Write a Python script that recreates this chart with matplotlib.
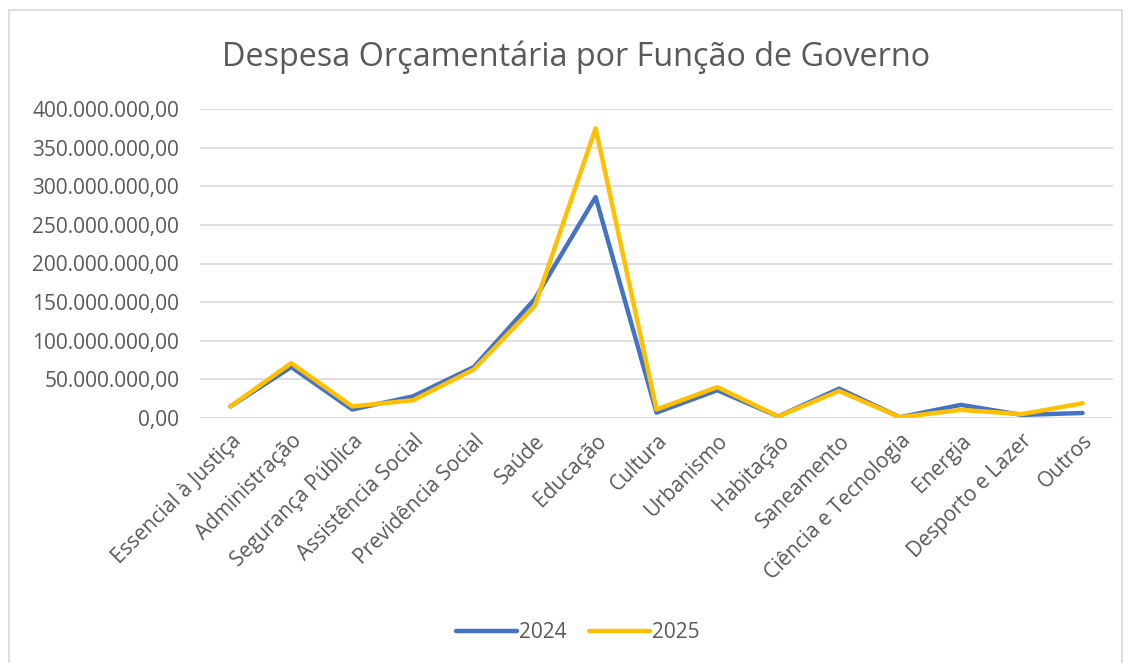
import matplotlib
matplotlib.use("Agg")
import matplotlib.pyplot as plt
from matplotlib.ticker import FuncFormatter, MultipleLocator
from matplotlib.patches import Rectangle

categories = ["Essencial à Justiça", "Administração", "Segurança Pública", "Assistência Social",
              "Previdência Social", "Saúde", "Educação", "Cultura", "Urbanismo", "Habitação",
              "Saneamento", "Ciência e Tecnologia", "Energia", "Desporto e Lazer", "Outros"]
values_2024 = [15e6, 66e6, 11e6, 28e6, 66e6, 154e6, 286e6, 7e6, 36e6, 2e6, 38e6, 1e6, 17e6, 4e6, 6.5e6]
values_2025 = [15e6, 71e6, 15e6, 23e6, 63e6, 145e6, 375e6, 11e6, 40e6, 2e6, 35e6, 1e6, 10.5e6, 5e6, 19e6]
title = "Despesa Orçamentária por Função de Governo"

plt.rcParams['font.family'] = ['Open Sans', 'DejaVu Sans']
txt = "#595959"

fig = plt.figure(figsize=(11.29, 6.63), dpi=100)
ax = fig.add_axes([200/1129, 1-418/663, 913/1129, 309/663])

x = list(range(len(categories)))
l1, = ax.plot(x, values_2024, color="#4472C4", lw=3.2, solid_capstyle="round", solid_joinstyle="round", label="2024", zorder=3)
l2, = ax.plot(x, values_2025, color="#FFC000", lw=3.2, solid_capstyle="round", solid_joinstyle="round", label="2025", zorder=4)

ax.set_xlim(-0.5, len(categories) - 0.5)
ax.set_ylim(0, 400e6)
ax.yaxis.set_major_locator(MultipleLocator(50e6))

def fmt(v, pos):
    s = f"{v:,.2f}"
    return s.replace(",", "X").replace(".", ",").replace("X", ".")
ax.yaxis.set_major_formatter(FuncFormatter(fmt))

ax.set_xticks(x)
ax.set_xticklabels(categories, rotation=45, ha="right", rotation_mode="anchor")
ax.tick_params(axis="both", length=0, labelsize=15, colors=txt)
ax.tick_params(axis="y", pad=15)
ax.tick_params(axis="x", pad=9)
for s in ax.spines.values():
    s.set_visible(False)
ax.grid(axis="y", color="#D9D9D9", lw=1.2)
ax.set_axisbelow(True)

fig.text(576/1129, 1-57/663, title, ha="center", va="center", fontsize=23.3, color=txt)

fig.legend(handles=[l1, l2], loc="center", bbox_to_anchor=(578/1129, 1-633/663), ncol=2,
           frameon=False, fontsize=15, labelcolor=txt, handlelength=2.9, handletextpad=0.1,
           columnspacing=1.1)

fig.patches.append(Rectangle((9/1129, -0.01), (1122-9)/1129, 1-10/663 + 0.01, transform=fig.transFigure,
                             fill=False, edgecolor="#D9D9D9", lw=1.2))

fig.savefig("out.png", dpi=100, facecolor="white")
